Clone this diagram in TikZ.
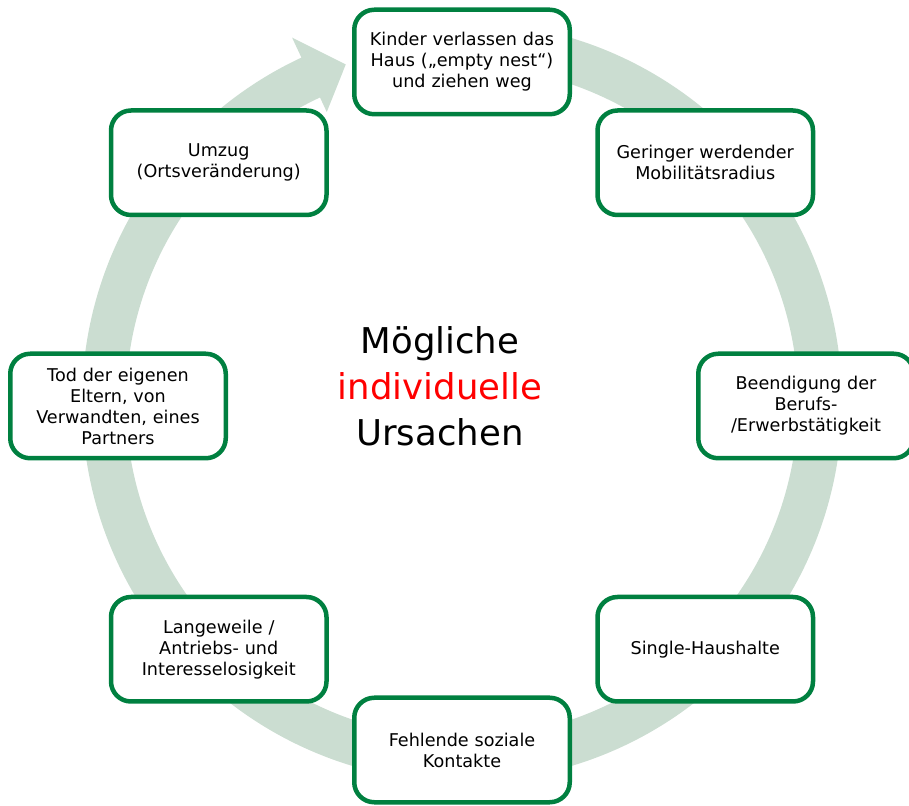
\documentclass[tikz,border=0pt]{standalone}
\usepackage{fontspec}
\setmainfont{DejaVu Sans}
\usetikzlibrary{calc}
\definecolor{ringgreen}{RGB}{203,221,209}
\definecolor{boxgreen}{RGB}{0,128,64}
\definecolor{hlred}{RGB}{255,0,0}
\tikzset{
  causebox/.style={draw=boxgreen, line width=4.5pt, rounded corners=20pt,
    fill=white, minimum width=215.5pt, minimum height=104.5pt,
    align=center, inner sep=0pt, text width=205pt,
    font=\fontsize{17.6}{21}\selectfont},
  titletext/.style={align=center, inner sep=0pt,
    font=\fontsize{35.5}{46}\selectfont}
}
\begin{document}
\begin{tikzpicture}[x=1pt,y=1pt]
  \useasboundingbox (0,0) rectangle (909,805);
  \coordinate (rc) at (462,403);
  \coordinate (bc) at (462,399);

  % circular arrow running clockwise behind the boxes
  \fill[ringgreen]
    ($(rc)+(95:380pt)$) arc[start angle=95, end angle=-245, radius=380pt]
    -- ($(rc)+(115:402pt)$) -- ($(rc)+(109:357pt)$) -- ($(rc)+(115:320pt)$)
    -- ($(rc)+(115:336pt)$) arc[start angle=-245, end angle=95, radius=336pt]
    -- cycle;

  % cause boxes around the ring
  \node[causebox] (kinder)     at ($(bc)+(90:344pt)$)   {Kinder verlassen das\\Haus („empty nest“)\\und ziehen weg};
  \node[causebox] (mobil)      at ($(bc)+(45:344pt)$)   {Geringer werdender\\Mobilitätsradius};
  \node[causebox] (beruf)      at ($(bc)+(0:344pt)$)    {Beendigung der\\Berufs-\\/Erwerbstätigkeit};
  \node[causebox] (single)     at ($(bc)+(-45:344pt)$)  {Single-Haushalte};
  \node[causebox] (kontakte)   at ($(bc)+(-90:344pt)$)  {Fehlende soziale\\Kontakte};
  \node[causebox] (langeweile) at ($(bc)+(-135:344pt)$) {Langeweile /\\Antriebs- und\\Interesselosigkeit};
  \node[causebox] (tod)        at ($(bc)+(180:344pt)$)  {Tod der eigenen\\Eltern, von\\Verwandten, eines\\Partners};
  \node[causebox] (umzug)      at ($(bc)+(135:344pt)$)  {Umzug\\(Ortsveränderung)};

  % central title
  \node[titletext] (titel) at (440,419) {Mögliche\\\textcolor{hlred}{individuelle}\\Ursachen};
\end{tikzpicture}
\end{document}
